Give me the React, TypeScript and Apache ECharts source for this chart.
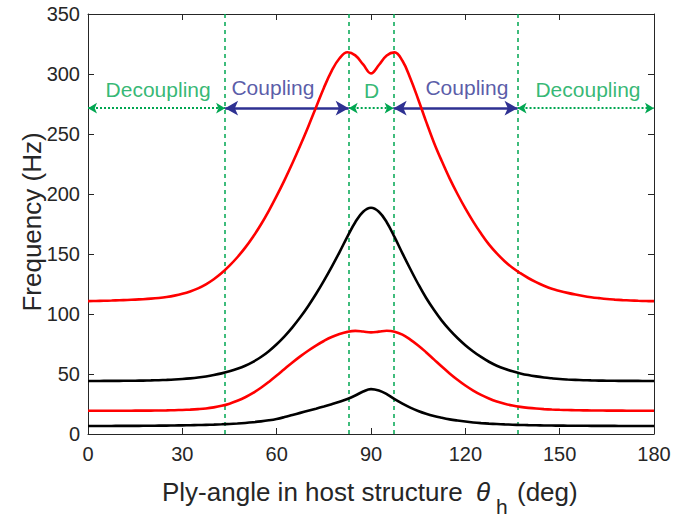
import React, { useEffect, useRef } from "react";
import * as echarts from "echarts";

// ---- data (ply angle in deg, frequency in Hz) ----
const angles = [
  0, 2.5, 5, 7.5, 10, 12.5, 15, 17.5, 20, 22.5, 25, 27.5, 30, 32.5, 35, 37.5,
  40, 42.5, 45, 47.5, 50, 52.5, 55, 57.5, 60, 62.5, 65, 67.5, 70, 72.5, 75, 77.5,
  80, 82.5, 85, 87.5, 90, 92.5, 95, 97.5, 100, 102.5, 105, 107.5, 110, 112.5, 115, 117.5,
  120, 122.5, 125, 127.5, 130, 132.5, 135, 137.5, 140, 142.5, 145, 147.5, 150, 152.5, 155, 157.5,
  160, 162.5, 165, 167.5, 170, 172.5, 175, 177.5, 180,
];

const redTop = [
  110.7, 110.85, 111, 111.2, 111.45, 111.7, 112, 112.35, 112.8, 113.4, 114.2, 115.3, 116.8, 118.8, 121.4, 124.75,
  129, 134.1, 140.3, 147.3, 155.3, 164.4, 174.6, 186, 198.4, 211.6, 225.6, 240.4, 255.9, 272.1, 288.4, 302.6,
  313.1, 318.1, 315.5, 308, 300.5, 307.5, 315.5, 318, 311, 296.5, 279, 260.5, 243, 227.5, 213, 200,
  188, 177, 167, 158, 150.5, 144, 138.5, 134, 130, 126.5, 123.5, 121, 119.2, 117.6, 116.2, 115,
  114, 113.2, 112.5, 112, 111.6, 111.3, 111, 110.8, 110.7,
];

const blackTop = [
  44.2, 44.21, 44.23, 44.25, 44.29, 44.34, 44.41, 44.51, 44.65, 44.84, 45.09, 45.41, 45.84, 46.39, 47.09, 47.99,
  49.11, 50.51, 52.24, 54.34, 56.89, 60.14, 64.14, 69.01, 74.76, 81.39, 88.89, 97.26, 106.51, 116.64, 127.64, 139.3,
  151.6, 164.5, 176.5, 185.2, 188.5, 185.2, 176.5, 164, 150.5, 137.5, 125, 113.5, 103.5, 94.5, 86.8, 80,
  74, 68.8, 64.2, 60.2, 56.9, 54.3, 52.2, 50.5, 49.1, 48, 47.1, 46.4, 45.8, 45.4, 45.1, 44.85,
  44.65, 44.5, 44.4, 44.33, 44.28, 44.25, 44.23, 44.21, 44.2,
];

const redLow = [
  19.4, 19.4, 19.4, 19.4, 19.41, 19.42, 19.44, 19.47, 19.52, 19.6, 19.7, 19.85, 20.05, 20.35, 20.75, 21.3,
  22.2, 23.5, 25.3, 27.7, 30.6, 34.2, 38.5, 43.4, 48.7, 54.2, 59.6, 64.7, 69.4, 73.7, 77.5, 80.8,
  83.3, 85.1, 85.9, 85.4, 84.7, 85.3, 86, 85.3, 82.8, 78.7, 73.8, 68.2, 62.2, 56.2, 50.5, 45.2,
  40.4, 36.2, 32.6, 29.6, 27.1, 25.2, 23.7, 22.6, 21.8, 21.2, 20.75, 20.4, 20.15, 19.95, 19.8, 19.7,
  19.62, 19.55, 19.5, 19.47, 19.44, 19.42, 19.41, 19.4, 19.4,
];

const blackLow = [
  6.7, 6.7, 6.71, 6.72, 6.74, 6.76, 6.79, 6.83, 6.88, 6.94, 7.01, 7.1, 7.2, 7.32, 7.46, 7.63,
  7.83, 8.07, 8.37, 8.75, 9.22, 9.8, 10.5, 11.4, 12.55, 14.1, 15.85, 17.6, 19.35, 21.1, 22.9, 24.8,
  26.85, 29.15, 32.05, 35.4, 37.4, 36.2, 33.2, 29, 25.3, 22, 19.2, 16.9, 15, 13.5, 12.2, 11.2,
  10.35, 9.65, 9.1, 8.65, 8.3, 8, 7.75, 7.55, 7.38, 7.25, 7.14, 7.05, 6.98, 6.92, 6.87, 6.83,
  6.8, 6.77, 6.75, 6.73, 6.72, 6.71, 6.7, 6.7, 6.7,
];

const boundaries = [43.6, 82.9, 97.2, 136.6];
const arrowLevel = 271.5;
const regionNames = ["Decoupling", "Coupling", "D", "Coupling", "Decoupling"];
const regionStart = [0, 43.6, 82.9, 97.2, 136.6];
const regionEnd = [43.6, 82.9, 97.2, 136.6, 180];
const regionKind = ["de", "co", "de", "co", "de"];
const regionLabelX = [22.3, 58.8, 90.2, 120.5, 159];
const regionLabelY = [287, 289, 286, 289, 287];

const GREEN = "#00a651";
const BLUE = "#2e3192";
const AXIS = "#262626";
const FONT = "Liberation Sans, Arial, Helvetica, sans-serif";

function zip(xs: number[], ys: number[]) {
  return xs.map((x, i) => [x, ys[i]]);
}

export default function App() {
  const ref = useRef<HTMLDivElement>(null);
  useEffect(() => {
    if (!ref.current) return;
    const chart = echarts.init(ref.current, undefined, { renderer: "svg" });

    const curve = (name: string, ys: number[], color: string) => ({
      name,
      type: "line",
      data: zip(angles, ys),
      smooth: 0.4,
      showSymbol: false,
      symbol: "none",
      lineStyle: { color, width: 2.6 },
      z: 5,
      silent: true,
    });

    const arrowData = regionStart.map((s, i) => ({
      kind: regionKind[i],
      d: [
        { coord: [s, arrowLevel] },
        { coord: [regionEnd[i], arrowLevel] },
      ],
    }));

    const axisCommon = {
      type: "value",
      splitLine: { show: false },
      axisTick: { show: true, inside: true, length: 6, lineStyle: { color: AXIS } },
    };

    const option: any = {
      animation: false,
      grid: { left: 88, right: 21, top: 14, bottom: 83 },
      xAxis: [
        {
          ...axisCommon,
          min: 0,
          max: 180,
          interval: 30,
          position: "bottom",
          axisLine: { show: true, lineStyle: { color: AXIS, width: 1 } },
          axisLabel: { color: AXIS, fontSize: 20, fontFamily: FONT, margin: 10 },
        },
        {
          ...axisCommon,
          min: 0,
          max: 180,
          interval: 30,
          position: "top",
          axisLine: { show: true, onZero: false, lineStyle: { color: AXIS, width: 1 } },
          axisLabel: { show: false },
        },
      ],
      yAxis: [
        {
          ...axisCommon,
          min: 0,
          max: 350,
          interval: 50,
          position: "left",
          axisLine: { show: true, lineStyle: { color: AXIS, width: 1 } },
          axisLabel: { color: AXIS, fontSize: 20, fontFamily: FONT, margin: 8 },
        },
        {
          ...axisCommon,
          min: 0,
          max: 350,
          interval: 50,
          position: "right",
          axisLine: { show: true, onZero: false, lineStyle: { color: AXIS, width: 1 } },
          axisLabel: { show: false },
        },
      ],
      series: [
        {
          type: "line",
          data: [],
          silent: true,
          z: 2,
          markLine: {
            silent: true,
            symbol: "none",
            label: { show: false },
            lineStyle: { color: GREEN, type: [4, 4], width: 1.5 },
            emphasis: { disabled: true },
            data: boundaries.map((b) => ({ xAxis: b })),
          },
        },
        curve("redTop", redTop, "#ff0000"),
        curve("blackTop", blackTop, "#000000"),
        curve("redLow", redLow, "#ff0000"),
        curve("blackLow", blackLow, "#000000"),
        {
          type: "line",
          data: [],
          silent: true,
          z: 6,
          markLine: {
            silent: true,
            symbol: ["arrow", "arrow"],
            symbolSize: [8, 9],
            label: { show: false },
            lineStyle: { color: GREEN, type: [2, 2], width: 1.8 },
            emphasis: { disabled: true },
            data: arrowData.filter((a) => a.kind === "de").map((a) => a.d),
          },
        },
        {
          type: "line",
          data: [],
          silent: true,
          z: 6,
          markLine: {
            silent: true,
            symbol: ["arrow", "arrow"],
            symbolSize: [11, 13],
            label: { show: false },
            lineStyle: { color: BLUE, type: "solid", width: 2.5 },
            emphasis: { disabled: true },
            data: arrowData.filter((a) => a.kind === "co").map((a) => a.d),
          },
        },
        ...regionNames.map((n, i) => ({
          type: "scatter",
          silent: true,
          z: 7,
          symbolSize: 1,
          itemStyle: { color: "rgba(0,0,0,0)" },
          data: [[regionLabelX[i], regionLabelY[i]]],
          label: {
            show: true,
            position: "inside",
            formatter: n,
            fontSize: 21,
            fontFamily: FONT,
            color: regionKind[i] === "co" ? BLUE : GREEN,
          },
        })),
      ],
      graphic: [
        {
          type: "text",
          x: 32,
          y: 222,
          rotation: Math.PI / 2,
          style: {
            text: "Frequency (Hz)",
            fontSize: 26,
            fontFamily: FONT,
            fill: AXIS,
            align: "center",
            verticalAlign: "middle",
          },
        },
        {
          type: "text",
          x: 162,
          y: 492,
          style: {
            text: "Ply-angle in host structure",
            fontSize: 26,
            fontFamily: FONT,
            fill: AXIS,
            align: "left",
            verticalAlign: "middle",
          },
        },
        {
          type: "text",
          x: 476,
          y: 492,
          style: {
            text: "θ",
            fontSize: 26,
            fontStyle: "italic",
            fontFamily: FONT,
            fill: AXIS,
            align: "left",
            verticalAlign: "middle",
          },
        },
        {
          type: "text",
          x: 496,
          y: 506,
          style: {
            text: "h",
            fontSize: 21,
            fontFamily: FONT,
            fill: AXIS,
            align: "left",
            verticalAlign: "middle",
          },
        },
        {
          type: "text",
          x: 517,
          y: 492,
          style: {
            text: "(deg)",
            fontSize: 26,
            fontFamily: FONT,
            fill: AXIS,
            align: "left",
            verticalAlign: "middle",
          },
        },
      ],
    };

    chart.setOption(option);
    return () => chart.dispose();
  }, []);

  return (
    <div
      ref={ref}
      style={{ position: "fixed", left: 0, top: 0, width: 675, height: 517, background: "#fff" }}
    />
  );
}
